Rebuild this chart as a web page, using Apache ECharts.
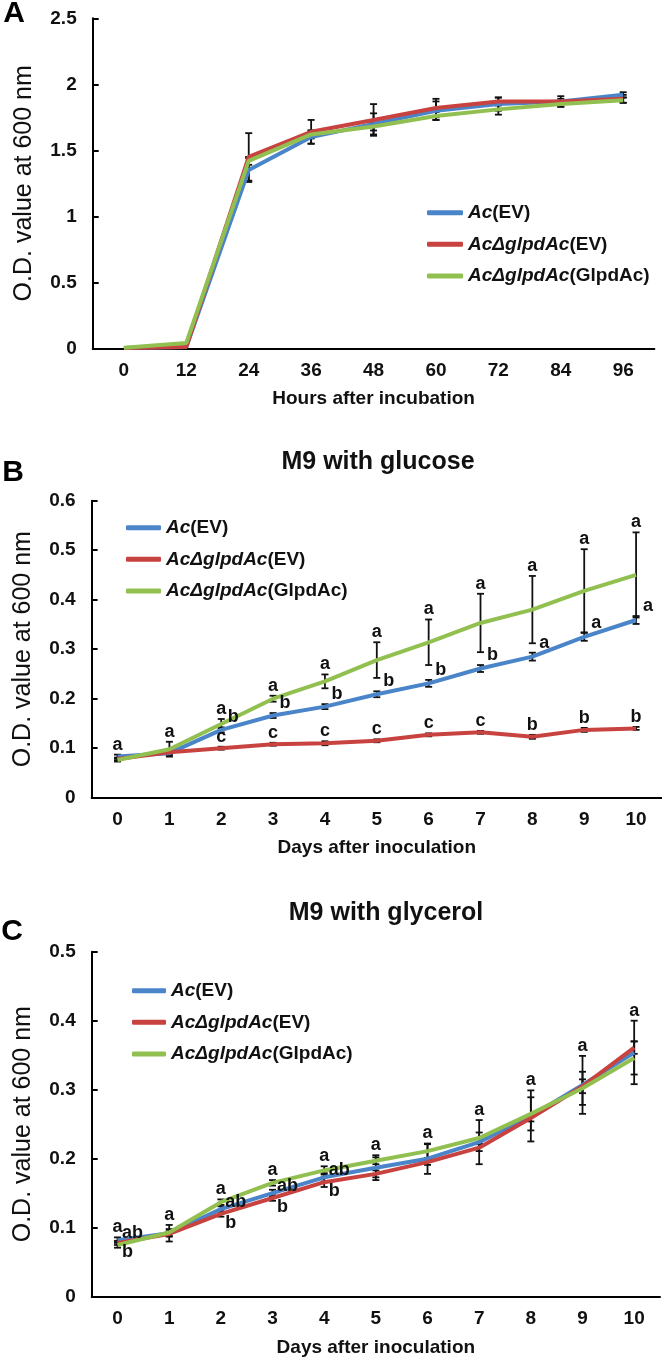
<!DOCTYPE html>
<html><head><meta charset="utf-8">
<script src="https://cdn.jsdelivr.net/npm/echarts@6/dist/echarts.min.js"></script>
<style>html,body{margin:0;padding:0;background:#fff}#c{width:662px;height:1361px}</style>
</head><body><div id="c"></div>
<script>
// ---------- data ----------
const seriesNames = ['Ac(EV)', 'AcΔglpdAc(EV)', 'AcΔglpdAc(GlpdAc)'];
const hoursA = ['0','12','24','36','48','60','72','84','96'];
const daysBC = ['0','1','2','3','4','5','6','7','8','9','10'];

// Panel A
const aBlue  = [0.003, 0.01, 1.35, 1.60, 1.70, 1.80, 1.85, 1.87, 1.92];
const aRed   = [0.003, 0.01, 1.45, 1.64, 1.73, 1.82, 1.87, 1.87, 1.89];
const aGreen = [0.005, 0.04, 1.42, 1.62, 1.68, 1.76, 1.81, 1.85, 1.88];
const aBlueErr  = [0, 0, 0.09, 0.05, 0.08, 0.07, 0.05, 0.04, 0.02];
const aRedErr   = [0, 0, 0.18, 0.09, 0.12, 0.07, 0.03, 0.02, 0.03];
const aGreenErr = [0, 0, 0.03, 0.03, 0.03, 0.03, 0.04, 0.02, 0.02];

// Panel B (M9 with glucose)
const bBlue  = [0.083, 0.090, 0.137, 0.166, 0.184, 0.209, 0.231, 0.261, 0.285, 0.325, 0.359];
const bRed   = [0.078, 0.092, 0.100, 0.108, 0.110, 0.115, 0.127, 0.132, 0.123, 0.137, 0.140];
const bGreen = [0.076, 0.098, 0.149, 0.200, 0.235, 0.278, 0.314, 0.353, 0.380, 0.418, 0.450];
const bBlueErr  = [0.004, 0.004, 0.005, 0.005, 0.005, 0.006, 0.007, 0.007, 0.008, 0.008, 0.008];
const bRedErr   = [0.003, 0.003, 0.003, 0.003, 0.004, 0.003, 0.003, 0.003, 0.004, 0.004, 0.003];
const bGreenErr = [0.003, 0.015, 0.010, 0.006, 0.014, 0.036, 0.046, 0.059, 0.068, 0.084, 0.086];
const bGreenLetters = ['a','a','a','a','a','a','a','a','a','a','a'];
const bBlueLetters  = ['','','b','b','b','b','b','b','a','a','a'];
const bRedLetters   = ['','','c','c','c','c','c','c','b','b','b'];

// Panel C (M9 with glycerol)
const cBlue  = [0.082, 0.092, 0.127, 0.150, 0.173, 0.187, 0.200, 0.224, 0.262, 0.307, 0.354];
const cRed   = [0.078, 0.091, 0.120, 0.143, 0.166, 0.178, 0.195, 0.216, 0.259, 0.305, 0.361];
const cGreen = [0.075, 0.093, 0.137, 0.165, 0.183, 0.197, 0.211, 0.230, 0.265, 0.302, 0.346];
const cBlueErr  = [0.004, 0.012, 0.004, 0.005, 0.006, 0.018, 0.022, 0.032, 0.037, 0.042, 0.046];
const cRedErr   = [0.003, 0.004, 0.004, 0.004, 0.007, 0.005, 0.004, 0.005, 0.005, 0.010, 0.009];
const cGreenErr = [0.004, 0.005, 0.004, 0.004, 0.006, 0.005, 0.010, 0.008, 0.024, 0.024, 0.024];
const cGreenLetters = ['a','a','a','a','a','a','a','a','a','a','a'];
const cBlueLetters  = ['ab','','ab','ab','ab','','','','','',''];
const cRedLetters   = ['b','','b','b','b','','','','','',''];

// ---------- styling ----------
const FONT = '"Liberation Sans", Arial, Helvetica, sans-serif';
const COLORS = ['#4a84c9', '#c8423f', '#92c050'];

function errSeries(g, vals, errs) {
  return {
    type: 'custom', xAxisIndex: g, yAxisIndex: g, z: 1, silent: true,
    data: vals.map((v, i) => [i, v - errs[i], v + errs[i]]),
    renderItem: function (params, api) {
      const i = params.dataIndex;
      if (!errs[i]) return null;
      const x = api.value(0);
      const top = api.coord([x, api.value(2)]);
      const bot = api.coord([x, api.value(1)]);
      const w = 3.5;
      const st = { stroke: '#111', lineWidth: 1.8 };
      return { type: 'group', children: [
        { type: 'line', shape: { x1: top[0], y1: top[1], x2: bot[0], y2: bot[1] }, style: st },
        { type: 'line', shape: { x1: top[0] - w, y1: top[1], x2: top[0] + w, y2: top[1] }, style: st },
        { type: 'line', shape: { x1: bot[0] - w, y1: bot[1], x2: bot[0] + w, y2: bot[1] }, style: st }
      ]};
    }
  };
}

// highest error-bar top among several series, per category
function maxTop(list) {
  return list[0][0].map((_, i) => Math.max.apply(null, list.map(p => p[0][i] + p[1][i])));
}

// anchors: value at which the letter is attached; 'top' => letter sits above it, 'point' => centred near it
function letterSeries(g, letters, anchors, mode, dx, dy) {
  return {
    type: 'custom', xAxisIndex: g, yAxisIndex: g, z: 5, silent: true,
    data: anchors.map((v, i) => [i, v]),
    renderItem: function (params, api) {
      const t = letters[params.dataIndex];
      if (!t) return null;
      const p = api.coord([api.value(0), api.value(1)]);
      return { type: 'text', x: p[0] + dx, y: p[1] + dy, style: {
        text: t, font: 'bold 18px ' + FONT, fill: '#111',
        align: 'center', verticalAlign: mode === 'top' ? 'bottom' : 'middle' } };
    }
  };
}

function lineSeries(g, name, vals, color) {
  return { type: 'line', name: name, xAxisIndex: g, yAxisIndex: g, z: 3,
    data: vals, symbol: 'none', smooth: false,
    lineStyle: { color: color, width: 4 }, itemStyle: { color: color } };
}

function xAx(g, cats, name, gap) {
  return { gridIndex: g, type: 'category', data: cats, boundaryGap: true,
    axisLine: { lineStyle: { color: '#000', width: 2 } },
    axisTick: { inside: true, length: 5, lineStyle: { color: '#000', width: 2 } },
    axisLabel: { margin: 13, color: '#111', fontSize: 19, fontWeight: 'bold', fontFamily: FONT },
    name: name, nameLocation: 'middle', nameGap: gap,
    nameTextStyle: { color: '#111', fontSize: 19, fontWeight: 'bold', fontFamily: FONT } };
}
function yAx(g, max, interval) {
  return { gridIndex: g, type: 'value', min: 0, max: max, interval: interval,
    axisLine: { show: true, lineStyle: { color: '#000', width: 2 } },
    axisTick: { show: true, inside: true, length: 6, lineStyle: { color: '#000', width: 2 } },
    splitLine: { show: false },
    axisLabel: { margin: 16, color: '#111', fontSize: 19, fontWeight: 'bold', fontFamily: FONT },
    name: 'O.D. value at 600 nm', nameLocation: 'middle', nameGap: 56,
    nameTextStyle: { color: '#111', fontSize: 25, fontWeight: 'normal', fontFamily: FONT } };
}
function legend(left, top, w) {
  const rich = {
    i: { fontStyle: 'italic', fontWeight: 'bold', fontSize: 19, fontFamily: FONT, color: '#111', lineHeight: 20 },
    n: { fontStyle: 'normal', fontWeight: 'bold', fontSize: 19, fontFamily: FONT, color: '#111', lineHeight: 20 }
  };
  return { orient: 'vertical', left: left, top: top, padding: 0, itemGap: 11.6,
    itemWidth: w, itemHeight: 5, icon: 'roundRect', data: seriesNames,
    selectedMode: false,
    formatter: function (n) { const k = n.indexOf('('); return '{i|' + n.slice(0, k) + '}{n|' + n.slice(k) + '}'; },
    textStyle: { fontSize: 19, fontFamily: FONT, lineHeight: 20, rich: rich } };
}

const bTop = maxTop([[bBlue, bBlueErr], [bRed, bRedErr], [bGreen, bGreenErr]]);
const cTop = maxTop([[cBlue, cBlueErr], [cRed, cRedErr], [cGreen, cGreenErr]]);
const bBlueTop = bBlue.map((v, i) => v + bBlueErr[i]);
const bRedTop = bRed.map((v, i) => v + bRedErr[i]);

const chart = echarts.init(document.getElementById('c'), null, { renderer: 'canvas' });
const option = {
  animation: false,
  backgroundColor: '#fff',
  grid: [
    { left: 92.7, top: 18.3, width: 561.7, height: 330 },
    { left: 91.6, top: 500.7, width: 570.6, height: 297 },
    { left: 91.7, top: 951.7, width: 568.3, height: 345 }
  ],
  xAxis: [
    xAx(0, hoursA, 'Hours after incubation', 41),
    xAx(1, daysBC, 'Days after inoculation', 41),
    xAx(2, daysBC, 'Days after inoculation', 42)
  ],
  yAxis: [ yAx(0, 2.5, 0.5), yAx(1, 0.6, 0.1), yAx(2, 0.5, 0.1) ],
  legend: [ legend(427, 202.7, 36), legend(126, 517.7, 35), legend(132, 980.7, 34) ],
  graphic: [
    { type: 'text', x: 14, y: 14, style: { text: 'A', font: 'bold 30px ' + FONT, fill: '#000', align: 'center', verticalAlign: 'middle' } },
    { type: 'text', x: 13, y: 473, style: { text: 'B', font: 'bold 30px ' + FONT, fill: '#000', align: 'center', verticalAlign: 'middle' } },
    { type: 'text', x: 12, y: 932, style: { text: 'C', font: 'bold 30px ' + FONT, fill: '#000', align: 'center', verticalAlign: 'middle' } },
    { type: 'text', x: 378, y: 462, style: { text: 'M9 with glucose', font: 'bold 25px ' + FONT, fill: '#111', align: 'center', verticalAlign: 'middle' } },
    { type: 'text', x: 386, y: 913, style: { text: 'M9 with glycerol', font: 'bold 25px ' + FONT, fill: '#111', align: 'center', verticalAlign: 'middle' } }
  ],
  series: [
    errSeries(0, aBlue, aBlueErr), errSeries(0, aRed, aRedErr), errSeries(0, aGreen, aGreenErr),
    lineSeries(0, seriesNames[0], aBlue, COLORS[0]),
    lineSeries(0, seriesNames[1], aRed, COLORS[1]),
    lineSeries(0, seriesNames[2], aGreen, COLORS[2]),

    errSeries(1, bBlue, bBlueErr), errSeries(1, bRed, bRedErr), errSeries(1, bGreen, bGreenErr),
    lineSeries(1, seriesNames[0], bBlue, COLORS[0]),
    lineSeries(1, seriesNames[1], bRed, COLORS[1]),
    lineSeries(1, seriesNames[2], bGreen, COLORS[2]),
    letterSeries(1, bGreenLetters, bTop, 'top', 0, -1),
    letterSeries(1, bBlueLetters, bBlueTop, 'top', 12, -1),
    letterSeries(1, bRedLetters, bRedTop, 'top', 0, -1),

    errSeries(2, cBlue, cBlueErr), errSeries(2, cRed, cRedErr), errSeries(2, cGreen, cGreenErr),
    lineSeries(2, seriesNames[0], cBlue, COLORS[0]),
    lineSeries(2, seriesNames[1], cRed, COLORS[1]),
    lineSeries(2, seriesNames[2], cGreen, COLORS[2]),
    letterSeries(2, cGreenLetters, cTop, 'top', 0, -1),
    letterSeries(2, cBlueLetters, cBlue, 'point', 15, -7),
    letterSeries(2, cRedLetters, cRed, 'point', 10, 9)
  ]
};
chart.setOption(option);
</script></body></html>
